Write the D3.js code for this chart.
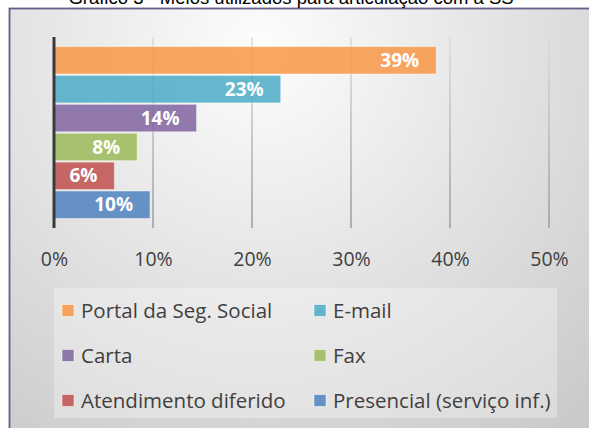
<!DOCTYPE html>
<html>
<head>
<meta charset="utf-8">
<script src="https://cdn.jsdelivr.net/npm/d3@7"></script>
<style>
  body { margin: 0; background: #fff; }
  svg { display: block; }
</style>
</head>
<body>
<svg id="grafico" width="589" height="428"></svg>
<script>
//dati del grafico
var categorie = ['Portal da Seg. Social', 'E-mail', 'Carta', 'Fax', 'Atendimento diferido', 'Presencial (serviço inf.)'];
var valori = [0.386, 0.229, 0.144, 0.084, 0.061, 0.097];
var etichette = ['39%', '23%', '14%', '8%', '6%', '10%'];
var colori = ['#F79646', '#4BACC6', '#8064A2', '#9BBB59', '#C0504D', '#4F81BD'];
var tickValori = [0, 0.1, 0.2, 0.3, 0.4, 0.5];
var titolo = 'Gráfico 3 - Meios utilizados para articulação com a SS';

var svg = d3.select('#grafico');
var defs = svg.append('defs');

//sfondo sfumato
var sfondo = defs.append('radialGradient')
    .attr('id', 'sfondo')
    .attr('gradientUnits', 'userSpaceOnUse')
    .attr('cx', 260).attr('cy', 50).attr('r', 560);
sfondo.append('stop').attr('offset', '0%').attr('stop-color', '#fdfdfd');
sfondo.append('stop').attr('offset', '100%').attr('stop-color', '#c2c2c2');

//griglia sfumata (chiara in alto, scura in basso)
var griglia = defs.append('linearGradient')
    .attr('id', 'griglia')
    .attr('gradientUnits', 'userSpaceOnUse')
    .attr('x1', 0).attr('y1', 37).attr('x2', 0).attr('y2', 228);
griglia.append('stop').attr('offset', '0%').attr('stop-color', '#dcdcdc');
griglia.append('stop').attr('offset', '100%').attr('stop-color', '#9a9a9a');

//cornice del grafico
svg.append('rect')
    .attr('x', 9.5).attr('y', 8.5)
    .attr('width', 600).attr('height', 440)
    .attr('fill', 'url(#sfondo)')
    .attr('stroke', '#6b5a8e')
    .attr('stroke-width', 1.8);

//titolo (tagliato in alto come nell'originale)
svg.append('text')
    .attr('x', 291).attr('y', 4)
    .attr('text-anchor', 'middle')
    .style('font-family', 'Liberation Sans, Arial, sans-serif')
    .style('font-size', '18.5px')
    .style('fill', '#000')
    .text(titolo);

//scale
var x = d3.scaleLinear().domain([0, 0.5]).range([54, 549]);
var y = d3.scaleBand().domain(categorie).range([37, 228])
    .paddingInner(0.05).paddingOuter(0.33);

//linee della griglia
svg.append('g').selectAll('line')
    .data(tickValori.slice(1))
    .enter().append('line')
    .attr('x1', function(d) { return x(d); })
    .attr('x2', function(d) { return x(d); })
    .attr('y1', 37).attr('y2', 228)
    .attr('stroke', 'url(#griglia)')
    .attr('stroke-width', 1.5);

//asse x con etichette
var asseX = d3.axisBottom(x)
    .tickValues(tickValori)
    .tickFormat(d3.format('.0%'))
    .tickSize(0)
    .tickPadding(0);

var gAsse = svg.append('g')
    .attr('transform', 'translate(0,228)')
    .call(asseX);
gAsse.select('.domain').remove();
gAsse.selectAll('text')
    .attr('y', 38)
    .attr('dy', 0)
    .style('font-family', 'Open Sans, sans-serif')
    .style('font-size', '19.5px')
    .style('fill', '#404040');

//barre
var barre = svg.append('g').selectAll('g')
    .data(categorie)
    .enter().append('g');

barre.append('rect')
    .attr('x', x(0))
    .attr('y', function(d) { return y(d); })
    .attr('width', function(d, i) { return x(valori[i]) - x(0); })
    .attr('height', y.bandwidth())
    .attr('fill', function(d, i) { return colori[i]; })
    .attr('fill-opacity', 0.85)
    .attr('stroke', 'rgba(255,255,255,0.45)')
    .attr('stroke-width', 1);

barre.append('text')
    .attr('x', function(d, i) { return x(valori[i]) - 17; })
    .attr('y', function(d) { return y(d) + y.bandwidth() / 2; })
    .attr('dy', '.35em')
    .attr('text-anchor', 'end')
    .style('font-family', 'Open Sans, sans-serif')
    .style('font-weight', 'bold')
    .style('font-size', '19px')
    .style('fill', '#fff')
    .text(function(d, i) { return etichette[i]; });

//asse verticale (0%)
svg.append('line')
    .attr('x1', x(0)).attr('x2', x(0))
    .attr('y1', 37).attr('y2', 228)
    .attr('stroke', '#3a3a3a')
    .attr('stroke-width', 3);

//legenda
svg.append('rect')
    .attr('x', 54).attr('y', 288)
    .attr('width', 503).attr('height', 130)
    .attr('fill', '#ffffff')
    .attr('fill-opacity', 0.3);

var legenda = svg.append('g').selectAll('g')
    .data(categorie)
    .enter().append('g')
    .attr('transform', function(d, i) {
        return 'translate(' + (62 + (i % 2) * 252) + ',' + (310.5 + Math.floor(i / 2) * 45) + ')';
    });

legenda.append('rect')
    .attr('x', 0).attr('y', -6)
    .attr('width', 12).attr('height', 12)
    .attr('fill', function(d, i) { return colori[i]; })
    .attr('fill-opacity', 0.85)
    .attr('stroke', 'rgba(255,255,255,0.5)')
    .attr('stroke-width', 1);

legenda.append('text')
    .attr('x', 19)
    .attr('y', 0)
    .attr('dy', '.36em')
    .style('font-family', 'Open Sans, sans-serif')
    .style('font-size', '20.5px')
    .style('fill', '#404040')
    .text(function(d) { return d; });
</script>
</body>
</html>
